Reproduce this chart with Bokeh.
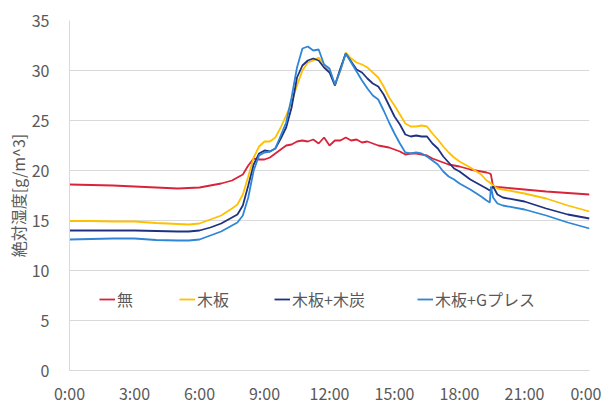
from bokeh.plotting import figure
from bokeh.models import ColumnDataSource, FixedTicker, Range1d, Legend, LegendItem
from bokeh.embed import file_html
from bokeh.resources import INLINE

# hours of the day
hours = [0, 1, 2, 3, 4, 5, 5.5, 6, 6.5, 7, 7.5, 7.75, 8, 8.25, 8.5, 8.75, 9, 9.25, 9.5, 9.75,
         10, 10.25, 10.5, 10.75, 11, 11.25, 11.5, 11.75, 12, 12.25, 12.5, 12.75, 13, 13.25,
         13.5, 13.75, 14, 14.25, 14.5, 14.75, 15, 15.25, 15.5, 15.75, 16, 16.25, 16.5, 16.75,
         17, 17.25, 17.5, 17.75, 18, 18.5, 19, 19.25, 19.4, 19.45, 19.55, 19.75, 20, 21, 22, 23, 24]

none_vals = [18.6, 18.55, 18.5, 18.4, 18.3, 18.2, 18.25, 18.3, 18.5, 18.7, 19.0, 19.3, 19.6, 20.5,
             21.2, 21.1, 21.1, 21.3, 21.7, 22.1, 22.5, 22.6, 22.9, 23.0, 22.9, 23.1, 22.7, 23.3,
             22.5, 23.0, 23.0, 23.3, 23.0, 23.1, 22.8, 22.9, 22.7, 22.5, 22.4, 22.3, 22.1, 21.9,
             21.6, 21.7, 21.7, 21.6, 21.5, 21.2, 21.0, 20.8, 20.6, 20.5, 20.4, 20.1, 19.9, 19.8,
             19.7, 19.6, 18.4, 18.35, 18.3, 18.1, 17.9, 17.75, 17.6]

board_vals = [14.95, 14.95, 14.9, 14.9, 14.75, 14.65, 14.6, 14.7, 15.1, 15.5, 16.2, 16.6, 17.6, 19.4,
              21.3, 22.4, 22.9, 22.9, 23.3, 24.3, 25.5, 26.8, 28.5, 30.0, 30.8, 31.0, 31.3, 30.6,
              30.0, 28.5, 30.0, 31.8, 31.2, 30.8, 30.6, 30.3, 29.8, 29.3, 28.4, 27.3, 26.5, 25.6,
              24.7, 24.4, 24.4, 24.5, 24.4, 23.7, 23.1, 22.4, 21.8, 21.3, 20.9, 20.3, 19.6, 19.0,
              18.8, 18.7, 18.5, 18.2, 18.1, 17.7, 17.2, 16.5, 15.9]

charcoal_vals = [14.0, 14.0, 14.0, 14.0, 13.95, 13.9, 13.9, 14.0, 14.3, 14.7, 15.3, 15.6, 16.5, 18.5,
                 20.6, 21.7, 22.0, 21.9, 22.2, 23.2, 24.3, 26.3, 29.3, 30.5, 31.0, 31.2, 31.0, 30.3,
                 29.8, 28.5, 30.2, 31.7, 30.9, 30.1, 29.8, 29.2, 28.7, 28.4, 27.6, 26.5, 25.4, 24.6,
                 23.6, 23.4, 23.5, 23.4, 23.4, 22.7, 22.2, 21.4, 20.8, 20.2, 19.9, 19.1, 18.5, 18.2,
                 18.0, 18.1, 18.4, 17.6, 17.3, 16.9, 16.2, 15.6, 15.2]

gpress_vals = [13.1, 13.15, 13.2, 13.2, 13.05, 13.0, 13.0, 13.1, 13.5, 13.9, 14.5, 14.8, 15.5, 17.3,
               20.0, 21.5, 21.8, 21.9, 22.2, 23.5, 24.8, 27.3, 30.3, 32.2, 32.4, 32.0, 32.1, 30.6,
               30.2, 28.6, 30.0, 31.7, 30.8, 29.9, 29.0, 28.2, 27.5, 27.1, 26.0, 24.8, 23.7, 22.7,
               21.8, 21.7, 21.8, 21.7, 21.4, 21.0, 20.6, 19.9, 19.4, 19.1, 18.7, 18.1, 17.4, 17.0,
               16.8, 18.4, 17.3, 16.7, 16.5, 16.1, 15.5, 14.8, 14.2]

series_names = ["無", "木板", "木板+木炭", "木板+Gプレス"]
series_colors = ["#d9233a", "#ffc000", "#1f3282", "#2f86d6"]
x_ticks = [0, 3, 6, 9, 12, 15, 18, 21, 24]
x_tick_labels = ["0:00", "3:00", "6:00", "9:00", "12:00", "15:00", "18:00", "21:00", "0:00"]
y_ticks = [0, 5, 10, 15, 20, 25, 30, 35]

FONT = "Noto Sans CJK JP"
TXT = "#595959"

src = ColumnDataSource(dict(h=hours, s0=none_vals, s1=board_vals, s2=charcoal_vals, s3=gpress_vals))

p = figure(frame_width=520, frame_height=350, output_backend="svg", toolbar_location=None,
           x_range=Range1d(0, 24), y_range=Range1d(0, 35),
           min_border_left=69, min_border_right=12, min_border_top=20, min_border_bottom=16)
p.outline_line_color = None

renderers = []
for i, col in enumerate(["s0", "s1", "s2", "s3"]):
    r = p.line("h", col, source=src, line_color=series_colors[i], line_width=1.8)
    renderers.append(r)

p.xaxis.ticker = FixedTicker(ticks=x_ticks)
p.xaxis.major_label_overrides = {t: l for t, l in zip(x_ticks, x_tick_labels)}
p.yaxis.ticker = FixedTicker(ticks=y_ticks)

for ax in (p.xaxis, p.yaxis):
    ax.major_tick_line_color = None
    ax.minor_tick_line_color = None
    ax.axis_line_color = "#d9d9d9"
    ax.major_label_text_font = FONT
    ax.major_label_text_font_size = "16px"
    ax.major_label_text_color = TXT
p.xaxis.major_label_standoff = 4
p.yaxis.major_label_standoff = 14
p.yaxis.axis_label = "絶対湿度[g/m^3]"
p.yaxis.axis_label_text_font = FONT
p.yaxis.axis_label_text_font_size = "16px"
p.yaxis.axis_label_text_font_style = "normal"
p.yaxis.axis_label_text_color = TXT
p.yaxis.axis_label_standoff = -1

p.xgrid.grid_line_color = None
p.ygrid.grid_line_color = "#d9d9d9"
p.ygrid.grid_line_width = 1

legend_x = [30, 110, 205, 348]
for i in range(4):
    lg = Legend(items=[LegendItem(label=series_names[i], renderers=[renderers[i]])],
                orientation="horizontal", location=(legend_x[i], 59),
                padding=0, margin=0, border_line_color=None, background_fill_alpha=0,
                glyph_width=16, glyph_height=16, label_height=16, label_standoff=2,
                label_text_font=FONT, label_text_font_size="16px", label_text_color=TXT)
    p.add_layout(lg)

open("out.html", "w").write(file_html(p, INLINE))
